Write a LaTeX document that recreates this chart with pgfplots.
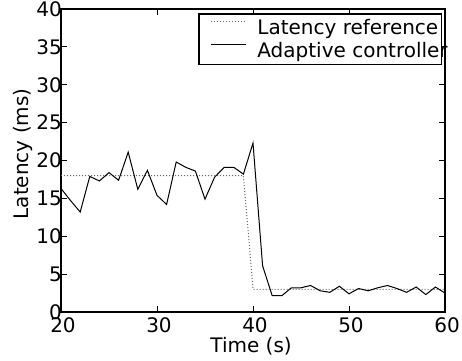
\documentclass[border=0pt]{standalone}
\usepackage{pgfplots}
\pgfplotsset{compat=1.18}
\usepackage{fontspec}
\setmainfont{DejaVu Sans}
\newcommand{\cf}{\fontsize{20}{24}\selectfont}
\begin{document}
\begin{tikzpicture}
\begin{axis}[
  scale only axis, width=384pt, height=303pt,
  xmin=20, xmax=60, ymin=0, ymax=40,
  xtick={20,30,40,50,60}, ytick={0,5,10,15,20,25,30,35,40},
  tick align=inside, major tick length=6pt,
  axis line style={line width=1.5pt},
  tick style={line width=1pt, black},
  /pgf/number format/assume math mode=true,
  tick label style={font=\cf},
  xticklabel style={anchor=north, inner sep=0pt, yshift=-5pt, xshift=2pt},
  yticklabel style={anchor=east, inner sep=0pt, xshift=1pt},
  xlabel={Time (s)}, ylabel={Latency (ms)},
  every axis x label/.style={at={(axis description cs:0.495,-0.134)}, anchor=base, font=\cf, inner sep=0pt},
  every axis y label/.style={at={(axis description cs:-0.0846,0.522)}, rotate=90, anchor=base, font=\cf, inner sep=0pt},
  legend image code/.code={\draw[#1] (0pt,6.5pt) -- (35pt,6.5pt);},
  legend style={font=\cf, at={(rel axis cs:0.9914,0.9858)}, anchor=north east,
    draw=black, line width=1.2pt, inner xsep=11pt, inner ysep=4.7pt,
    row sep=3.5pt, column sep=11.3pt,
    nodes={inner sep=0pt, text height=16pt, text depth=3pt}},
  legend cell align=left,
]
\addplot[black!60, line width=1pt, dash pattern=on 1pt off 2pt] coordinates {
(20,18) (39,18) (40,3) (60,3)};
\addlegendentry{\makebox[172.7pt][l]{Latency reference}}
\addplot[black, line width=1pt] coordinates {
(20,16.3) (21,14.7) (22,13.2) (23,17.9) (24,17.3) (25,18.4) (26,17.4) (27,21.1)
(28,16.2) (29,18.7) (30,15.4) (31,14.2) (32,19.8) (33,19.1) (34,18.6) (35,14.9)
(36,17.8) (37,19.1) (38,19.1) (39,18.2) (40,22.3) (41,6.1) (42,2.15) (43,2.15)
(44,3.2) (45,3.2) (46,3.5) (47,2.8) (48,2.6) (49,3.4) (50,2.4) (51,3.1)
(52,2.8) (53,3.2) (54,3.5) (55,3.1) (56,2.6) (57,3.3) (58,2.3) (59,3.3) (60,2.5)};
\addlegendentry{\makebox[172.7pt][l]{Adaptive controller}}
\end{axis}
\pgfresetboundingbox
\path (current axis.south west) ++(-61pt,-48pt) rectangle ++(462pt,360pt);
\end{tikzpicture}
\end{document}
